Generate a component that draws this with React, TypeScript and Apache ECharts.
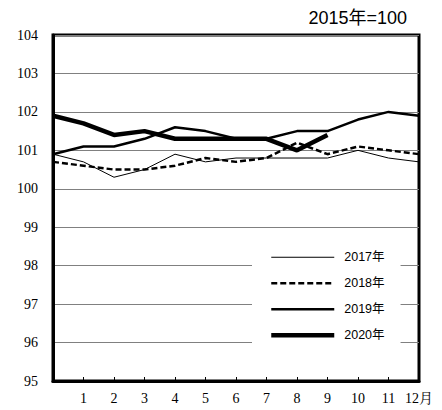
import React, { useEffect, useRef } from "react";
import * as echarts from "echarts";

const monthLabels = ["", "1", "2", "3", "4", "5", "6", "7", "8", "9", "10", "11", "12月"];
const seriesNames = ["2017年", "2018年", "2019年", "2020年"];
const v2017 = [100.9, 100.7, 100.3, 100.5, 100.9, 100.7, 100.8, 100.8, 100.8, 100.8, 101.0, 100.8, 100.7];
const v2018 = [100.7, 100.6, 100.5, 100.5, 100.6, 100.8, 100.7, 100.8, 101.2, 100.9, 101.1, 101.0, 100.9];
const v2019 = [100.9, 101.1, 101.1, 101.3, 101.6, 101.5, 101.3, 101.3, 101.5, 101.5, 101.8, 102.0, 101.9];
const v2020 = [101.9, 101.7, 101.4, 101.5, 101.3, 101.3, 101.3, 101.3, 101.0, 101.4];
const titleText = "2015年=100";

const serif = "Liberation Serif, DejaVu Serif, Noto Serif CJK JP, serif";
const sans = "Liberation Sans, Noto Sans CJK JP, sans-serif";

export default function App() {
  const ref = useRef<HTMLDivElement>(null);
  useEffect(() => {
    const chart = echarts.init(ref.current!, undefined, { renderer: "svg" });
    const styles = [
      { width: 1, type: "solid" },
      { width: 2.5, type: [6, 3] },
      { width: 2.5, type: "solid" },
      { width: 4.5, type: "solid" },
    ];
    const values = [v2017, v2018, v2019, v2020];
    chart.setOption({
      animation: false,
      title: {
        text: titleText,
        right: 35,
        top: 9,
        padding: 0,
        textStyle: { fontSize: 18, fontWeight: "normal", color: "#000", fontFamily: sans },
      },
      grid: {
        left: 53,
        right: 23,
        top: 35,
        bottom: 29,
        show: true,
        borderColor: "#000",
        borderWidth: 3,
        backgroundColor: "transparent",
      },
      legend: {
        orient: "vertical",
        left: 252,
        top: 240,
        padding: [11, 16, 16, 17],
        backgroundColor: "#fff",
        itemWidth: 63,
        itemHeight: 14,
        itemGap: 13.5,
        textStyle: { fontSize: 12.5, color: "#000", fontFamily: sans, padding: [0, 0, 0, 5] },
        data: seriesNames.map((n, i) => ({
          name: n,
          itemStyle: { opacity: 0 },
          lineStyle: { width: styles[i].width, type: styles[i].type, color: "#000" },
        })),
      },
      xAxis: {
        type: "category",
        data: monthLabels,
        boundaryGap: false,
        axisLine: { lineStyle: { color: "#000", width: 3 } },
        axisTick: { inside: true, length: 4, lineStyle: { color: "#000", width: 1 } },
        axisLabel: { color: "#000", fontSize: 14, fontFamily: serif, margin: 10, interval: 0 },
        splitLine: { show: false },
      },
      yAxis: {
        type: "value",
        min: 95,
        max: 104,
        interval: 1,
        axisLine: { show: true, lineStyle: { color: "#000", width: 3 } },
        axisTick: { show: false },
        axisLabel: { color: "#000", fontSize: 14, fontFamily: serif, margin: 15 },
        splitLine: { lineStyle: { color: "#808080", width: 1 } },
      },
      series: seriesNames.map((n, i) => ({
        name: n,
        type: "line",
        data: values[i],
        symbol: "none",
        showSymbol: false,
        z: 2 + i,
        lineStyle: { color: "#000", width: styles[i].width, type: styles[i].type },
        itemStyle: { color: "#000" },
      })),
    });
    return () => chart.dispose();
  }, []);
  return <div ref={ref} style={{ width: 442, height: 410, position: "absolute", left: 0, top: 0 }} />;
}
